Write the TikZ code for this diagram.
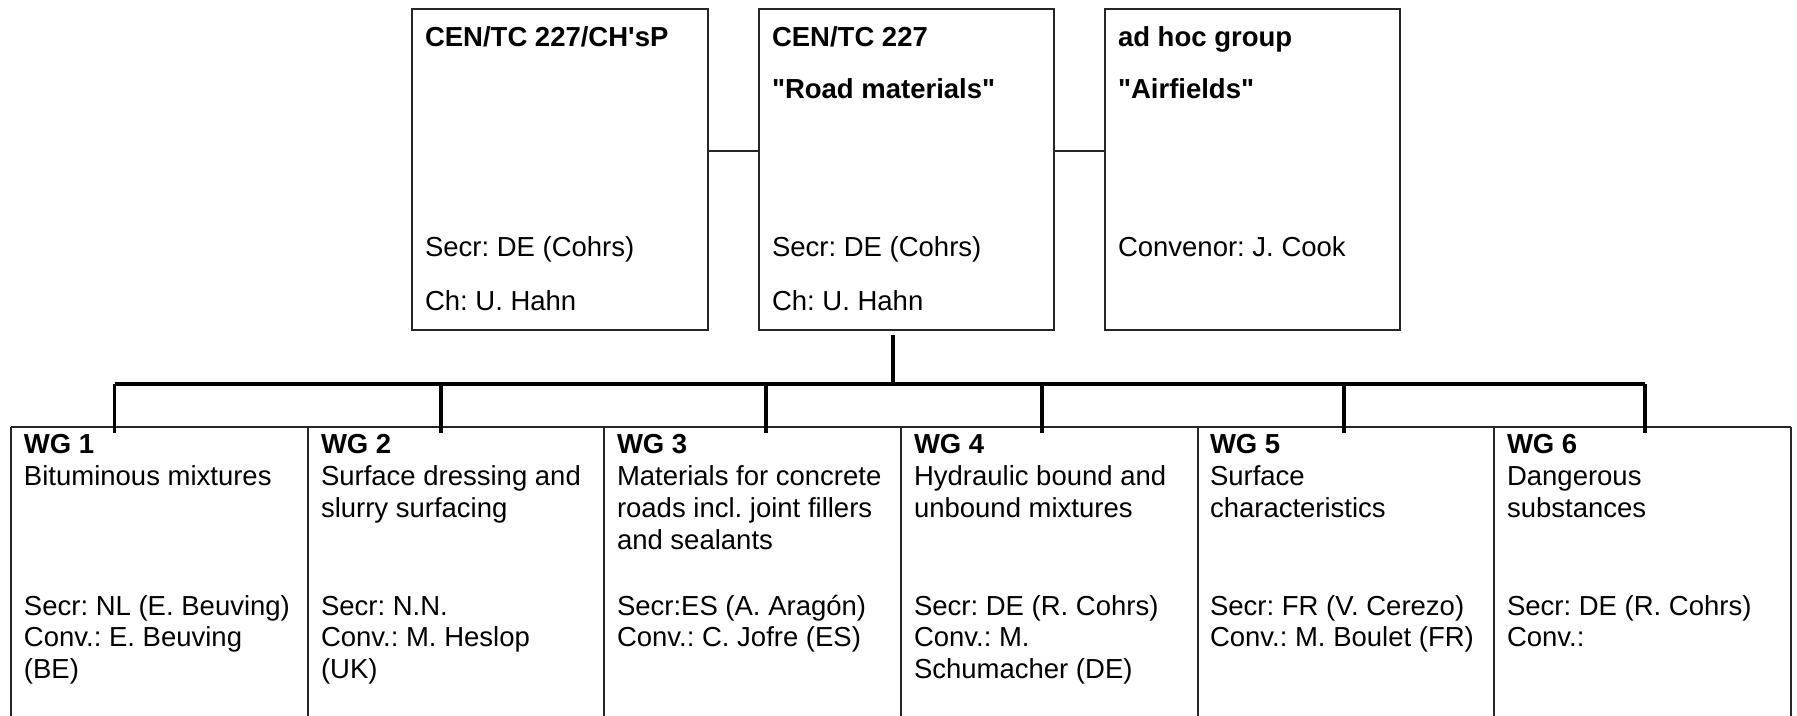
\documentclass[tikz,border=0pt]{standalone}
\usepackage{fontspec}
\newfontfamily\arial{Liberation Sans}
\frenchspacing
\begin{document}
\frenchspacing
\begin{tikzpicture}[x=0.5pt,y=-0.5pt,
  every node/.style={font=\arial\frenchspacing\fontsize{13.75}{16}\selectfont, inner sep=0pt, outer sep=0pt, anchor=base west, text=black},
  bf/.style={font=\arial\frenchspacing\bfseries\fontsize{13.75}{16}\selectfont},
  box/.style={draw=black!85, line width=0.7pt, anchor=north west, minimum height=160.5pt},
  thinline/.style={draw=black!85, line width=0.7pt},
  busline/.style={draw=black, line width=1.7pt},
  wgbox/.style={anchor=north west, minimum height=144.5pt}]
\useasboundingbox[fill=white] (0,0) rectangle (1797,716);

% top boxes
\node[box, minimum width=148pt] (t1) at (412,9) {};
\node[box, minimum width=147.5pt] (t2) at (759,9) {};
\node[box, minimum width=147.5pt] (t3) at (1105,9) {};
\draw[thinline] ([yshift=-71pt]t1.north east) -- ([yshift=-71pt]t2.north west);
\draw[thinline] ([yshift=-71pt]t2.north east) -- ([yshift=-71pt]t3.north west);

\node[bf] (t1a) at (425,47) {CEN/TC 227/CH'sP};
\node (t1b) at (425,257) {Secr: DE (Cohrs)};
\node (t1c) at (425,311) {Ch: U. Hahn};
\node[bf] (t2a) at (772,47) {CEN/TC 227};
\node[bf] (t2b) at (772,99) {"Road materials"};
\node (t2c) at (772,257) {Secr: DE (Cohrs)};
\node (t2d) at (772,311) {Ch: U. Hahn};
\node[bf] (t3a) at (1118,47) {ad hoc group};
\node[bf] (t3b) at (1118,99) {"Airfields"};
\node (t3c) at (1118,257) {Convenor: J. Cook};

% working group boxes (frames drawn as lines, no bottom edge)
\node[wgbox, minimum width=148.5pt] (wg1) at (11,427) {};
\node[wgbox, minimum width=148pt] (wg2) at (308,427) {};
\node[wgbox, minimum width=148.5pt] (wg3) at (604,427) {};
\node[wgbox, minimum width=148.5pt] (wg4) at (901,427) {};
\node[wgbox, minimum width=148pt] (wg5) at (1198,427) {};
\node[wgbox, minimum width=148.5pt] (wg6) at (1494,427) {};
\draw[thinline] (wg1.north west) -- (wg6.north east);
\foreach \w in {wg1,wg2,wg3,wg4,wg5,wg6}{
  \draw[thinline] (\w.north west) -- (\w.south west);
}
\draw[thinline] (wg6.north east) -- (wg6.south east);

% bus
\coordinate (bl) at (114.6,384);
\coordinate (br) at (1645,384);
\coordinate (bc) at (893,386);
\draw[busline] ([xshift=67pt,yshift=-2.5pt]t2.south west) -- (bc);
\draw[busline] (bl) -- (br);
\draw[busline] (bl) -- ([xshift=51.8pt,yshift=-3pt]wg1.north west);
\draw[busline] (441,384) -- ([xshift=66.5pt,yshift=-3pt]wg2.north west);
\draw[busline] (766,384) -- ([xshift=81pt,yshift=-3pt]wg3.north west);
\draw[busline] (1042,384) -- ([xshift=70.5pt,yshift=-3pt]wg4.north west);
\draw[busline] (1344,384) -- ([xshift=73pt,yshift=-3pt]wg5.north west);
\draw[busline] (br) -- ([xshift=75.5pt,yshift=-3pt]wg6.north west);

% WG texts
\node[bf] (w1a) at (24,453) {WG 1};
\node (w1b) at (24,485) {Bituminous mixtures};
\node (w1c) at (24,615) {Secr: NL (E. Beuving)};
\node (w1d) at (24,646.5) {Conv.: E. Beuving};
\node (w1e) at (24,678) {(BE)};

\node[bf] (w2a) at (321,453) {WG 2};
\node (w2b) at (321,485) {Surface dressing and};
\node (w2c) at (321,517) {slurry surfacing};
\node (w2d) at (321,615) {Secr: N.N.};
\node (w2e) at (321,646.5) {Conv.: M. Heslop};
\node (w2f) at (321,678) {(UK)};

\node[bf] (w3a) at (617,453) {WG 3};
\node (w3b) at (617,485) {Materials for concrete};
\node (w3c) at (617,517) {roads incl. joint fillers};
\node (w3d) at (617,549) {and sealants};
\node (w3e) at (617,615) {Secr:ES (A. Aragón)};
\node (w3f) at (617,646.5) {Conv.: C. Jofre (ES)};

\node[bf] (w4a) at (914,453) {WG 4};
\node (w4b) at (914,485) {Hydraulic bound and};
\node (w4c) at (914,517) {unbound mixtures};
\node (w4d) at (914,615) {Secr: DE (R. Cohrs)};
\node (w4e) at (914,646.5) {Conv.: M.};
\node (w4f) at (914,678) {Schumacher (DE)};

\node[bf] (w5a) at (1210,453) {WG 5};
\node (w5b) at (1210,485) {Surface};
\node (w5c) at (1210,517) {characteristics};
\node (w5d) at (1210,615) {Secr: FR (V. Cerezo)};
\node (w5e) at (1210,646.5) {Conv.: M. Boulet (FR)};

\node[bf] (w6a) at (1507,453) {WG 6};
\node (w6b) at (1507,485) {Dangerous};
\node (w6c) at (1507,517) {substances};
\node (w6d) at (1507,615) {Secr: DE (R. Cohrs)};
\node (w6e) at (1507,646.5) {Conv.:};
\end{tikzpicture}
\end{document}
